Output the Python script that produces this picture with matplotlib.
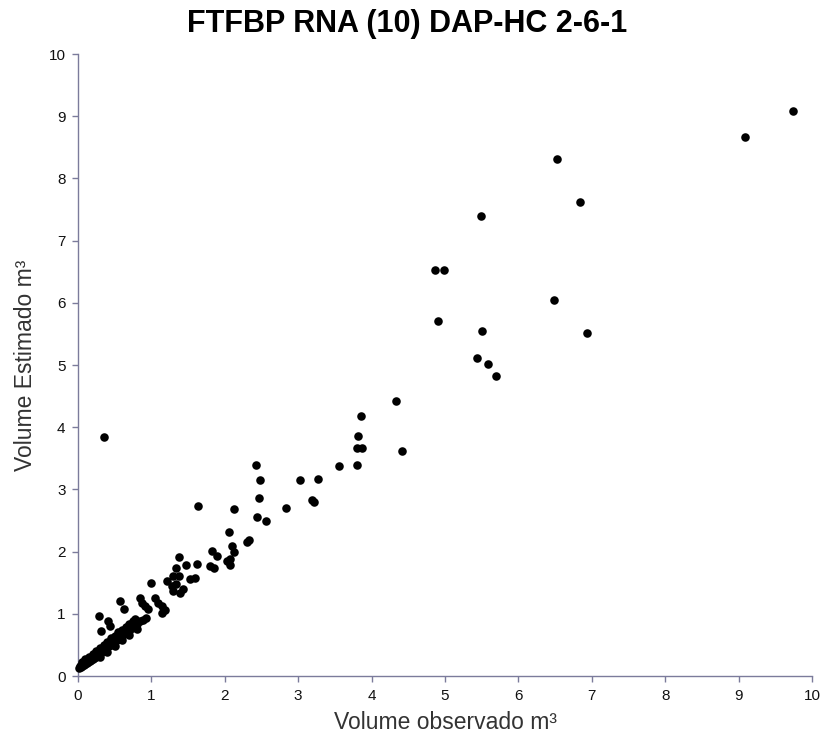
import matplotlib
matplotlib.use("Agg")
import matplotlib.pyplot as plt

# Dense band of small trees (observed, estimated)
band_obs = [0.02, 0.03, 0.04, 0.05, 0.06, 0.07, 0.08, 0.09, 0.10, 0.11, 0.12, 0.13, 0.14, 0.15,
            0.16, 0.17, 0.18, 0.19, 0.20, 0.21, 0.22, 0.23, 0.24, 0.25, 0.26, 0.27, 0.28, 0.29,
            0.30, 0.31, 0.32, 0.33, 0.34, 0.35, 0.36, 0.37, 0.38, 0.39, 0.40, 0.41, 0.42, 0.43,
            0.44, 0.45, 0.46, 0.47, 0.48, 0.49, 0.50, 0.52, 0.53, 0.55, 0.56, 0.58, 0.59, 0.61,
            0.62, 0.64, 0.65, 0.67, 0.69, 0.71, 0.73, 0.75, 0.77, 0.79, 0.81, 0.84, 0.88, 0.92,
            0.05, 0.10, 0.15, 0.20, 0.25, 0.30, 0.35, 0.40, 0.45, 0.50, 0.55, 0.60, 0.65, 0.70, 0.75,
            0.30, 0.40, 0.50, 0.60, 0.70, 0.80]
band_est = [0.13, 0.16, 0.14, 0.19, 0.16, 0.20, 0.18, 0.22, 0.19, 0.23, 0.21, 0.25, 0.22, 0.27,
            0.24, 0.28, 0.26, 0.30, 0.27, 0.31, 0.29, 0.33, 0.30, 0.35, 0.32, 0.37, 0.34, 0.39,
            0.36, 0.41, 0.38, 0.44, 0.40, 0.46, 0.42, 0.48, 0.44, 0.51, 0.46, 0.53, 0.48, 0.55,
            0.50, 0.57, 0.52, 0.59, 0.54, 0.61, 0.56, 0.63, 0.58, 0.66, 0.61, 0.69, 0.64, 0.72,
            0.67, 0.74, 0.70, 0.77, 0.73, 0.80, 0.77, 0.83, 0.81, 0.86, 0.84, 0.88, 0.90, 0.93,
            0.23, 0.27, 0.31, 0.36, 0.40, 0.45, 0.50, 0.55, 0.61, 0.65, 0.70, 0.74, 0.78, 0.84, 0.88,
            0.30, 0.38, 0.48, 0.58, 0.66, 0.76]

# Remaining scattered points
other_obs = [0.35, 0.28, 0.41, 0.44, 0.32, 0.57, 0.62,
             0.84, 0.87, 0.91, 0.96, 0.78,
             1.00, 1.05, 1.09, 1.14, 1.18, 1.14,
             1.21, 1.28, 1.30, 1.34, 1.39, 1.43, 1.30, 1.37, 1.53, 1.59,
             1.37, 1.34, 1.47, 1.62, 1.80, 1.85, 1.82, 1.89,
             1.63, 2.03, 2.07, 2.07, 2.12, 2.10, 2.06, 2.13, 2.33, 2.30,
             2.44, 2.56, 2.43, 2.48, 2.47, 2.83, 3.03, 3.21, 3.19, 3.27,
             3.56, 3.80, 3.80, 3.87, 3.81, 3.86, 4.33, 4.41,
             4.86, 4.98, 4.90, 5.43, 5.50, 5.59, 5.69, 5.49, 6.49, 6.52, 6.84, 6.94, 9.09, 9.74]
other_est = [3.85, 0.96, 0.89, 0.81, 0.73, 1.21, 1.07,
             1.26, 1.18, 1.13, 1.07, 0.91,
             1.50, 1.26, 1.18, 1.12, 1.06, 1.02,
             1.53, 1.45, 1.37, 1.48, 1.34, 1.40, 1.61, 1.61, 1.56, 1.58,
             1.92, 1.74, 1.79, 1.80, 1.77, 1.74, 2.01, 1.93,
             2.74, 1.85, 1.88, 1.78, 2.00, 2.09, 2.32, 2.68, 2.19, 2.16,
             2.56, 2.49, 3.39, 3.15, 2.86, 2.70, 3.15, 2.80, 2.83, 3.17,
             3.38, 3.40, 3.67, 3.67, 3.86, 4.18, 4.42, 3.62,
             6.53, 6.53, 5.70, 5.11, 5.55, 5.02, 4.83, 7.40, 6.05, 8.31, 7.62, 5.52, 8.66, 9.08]

x_ticks = [0, 1, 2, 3, 4, 5, 6, 7, 8, 9, 10]
y_ticks = [0, 1, 2, 3, 4, 5, 6, 7, 8, 9, 10]

title = "FTFBP RNA (10) DAP-HC 2-6-1"
xlabel = "Volume observado m³"
ylabel = "Volume Estimado m³"

plt.rcParams['font.family'] = ['Liberation Sans Narrow', 'Liberation Sans', 'DejaVu Sans']

fig = plt.figure(figsize=(8.26, 7.46), dpi=100)
ax = fig.add_axes([78/826, 1 - 676/746, (812-78)/826, (676-54)/746])

ax.scatter(band_obs + other_obs, band_est + other_est, s=38, c='black', marker='o',
           linewidths=0, zorder=3, clip_on=False)

ax.set_xlim(0, 10)
ax.set_ylim(0, 10)
ax.set_xticks(x_ticks)
ax.set_yticks(y_ticks)

axcol = '#7b7b9b'
for s in ['top', 'right']:
    ax.spines[s].set_visible(False)
for s in ['left', 'bottom']:
    ax.spines[s].set_color(axcol)
    ax.spines[s].set_linewidth(1.0)
ax.tick_params(axis='both', direction='out', length=4, width=1, color=axcol,
               labelsize=11, labelcolor='#111111', pad=5)

ax.set_xlabel(xlabel, fontsize=16.5, color='#333333', labelpad=6)
ax.set_ylabel(ylabel, fontsize=16.5, color='#333333', labelpad=8)
fig.text(0.493, 0.968, title, fontsize=22, fontweight='bold', ha='center', va='center', color='black')

fig.savefig('out.png', dpi=100, facecolor='white')
